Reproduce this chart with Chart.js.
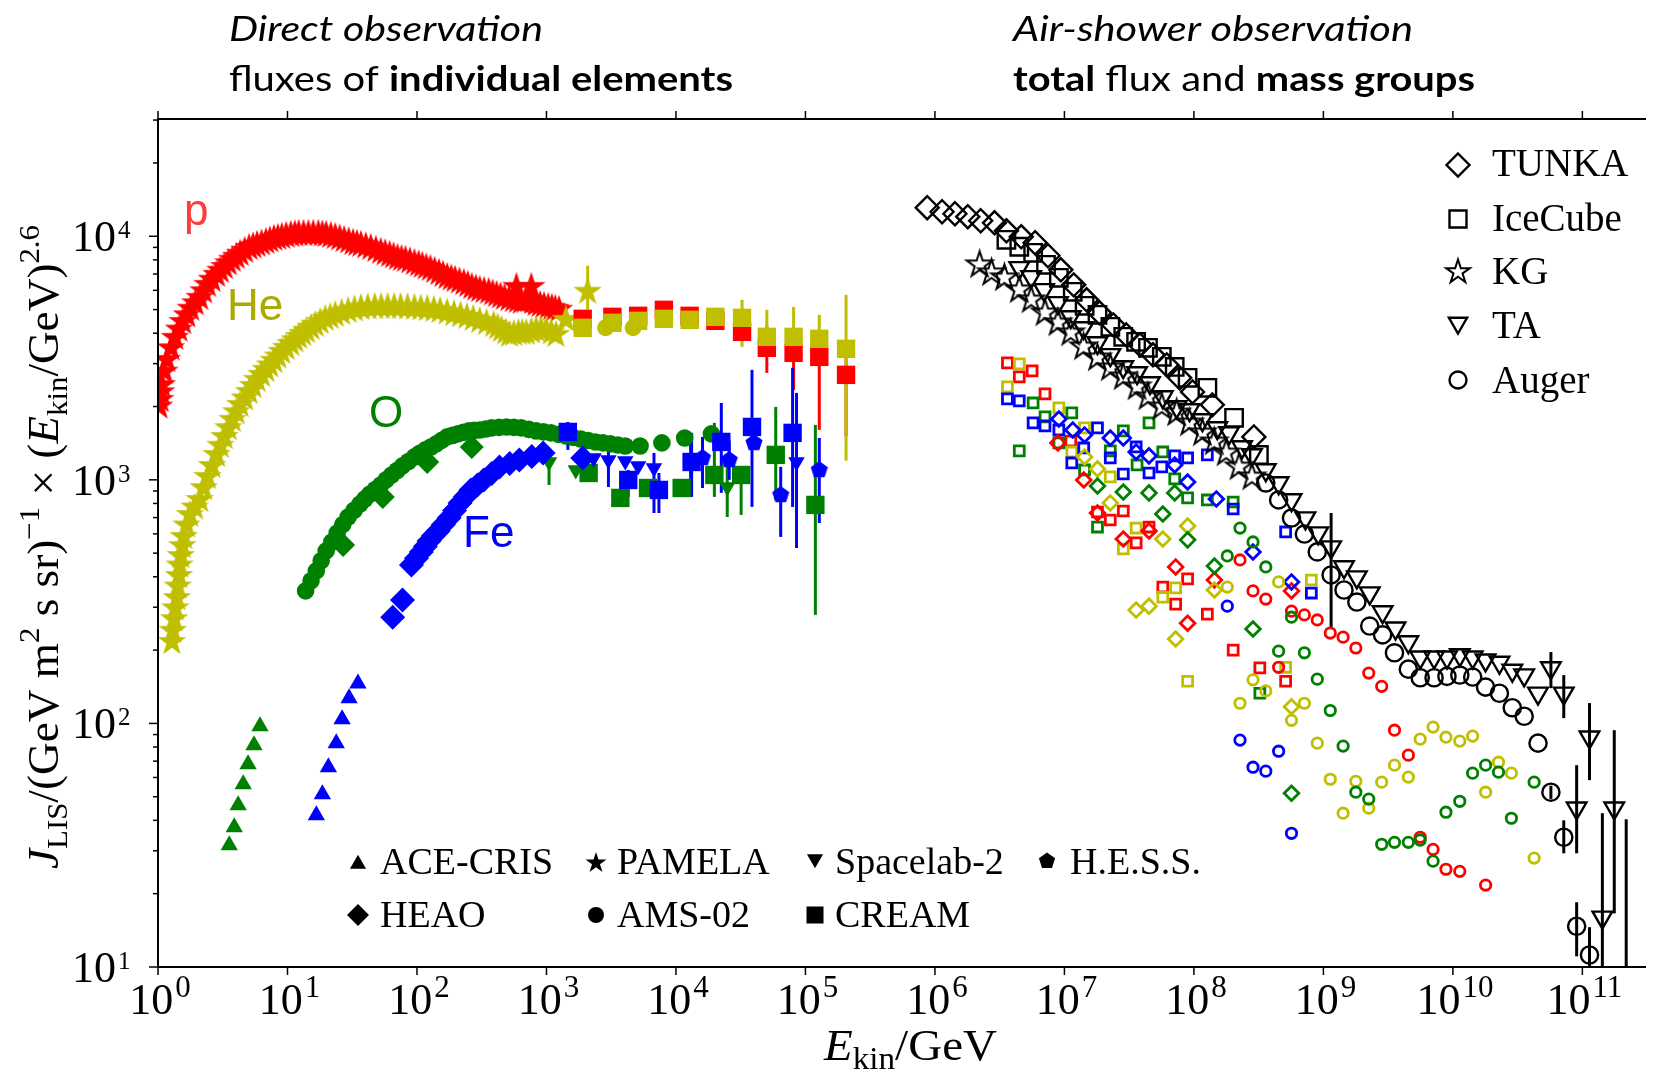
<!DOCTYPE html>
<html><head><meta charset="utf-8">
<script src="https://cdn.jsdelivr.net/npm/chart.js@4.4.0/dist/chart.umd.min.js"></script>
<style>html,body{margin:0;padding:0;background:#fff;}canvas{display:block;}</style>
</head><body>
<canvas id="c" width="1661" height="1069"></canvas>
<script>
// ---------------- DATA (E_kin [GeV], J*E^2.6) ----------------
// Direct observation
const pPAMELA = [[1.02,2000],[1.04,2130],[1.055,2290],[1.07,2450],[1.12,2780],[1.17,3110],[1.26,3470],[1.35,3830],[1.45,4140],[1.55,4450],[1.67,4740],[1.79,5040],[1.94,5310],[2.10,5590],[2.25,5950],[2.41,6320],[2.61,6630],[2.83,6950],[3.03,7220],[3.25,7490],[3.49,7750],[3.75,8010],[4.02,8240],[4.31,8480],[4.67,8720],[5.05,8970],[5.42,9100],[5.82,9230],[6.30,9360],[6.81,9490],[7.31,9630],[7.85,9770],[8.42,9860],[9.03,9950],[9.78,10050],[10.6,10140],[11.4,10190],[12.2,10240],[13.3,10240],[14.5,10240],[15.8,10240],[17.3,10240],[18.6,10190],[19.9,10140],[21.6,10050],[23.4,9950],[25.3,9810],[27.4,9670],[29.7,9540],[32.1,9400],[34.4,9310],[36.9,9230],[40.3,9100],[44.0,8970],[48.1,8800],[52.5,8640],[56.8,8520],[61.5,8400],[66.0,8280],[70.8,8160],[76.0,8080],[81.5,8010],[88.2,7900],[95.5,7780],[103,7680],[110,7570],[118,7460],[127,7360],[137,7220],[148,7080],[159,6950],[171,6820],[184,6720],[197,6630],[213,6530],[230,6440],[247,6320],[265,6200],[285,6110],[305,6030],[330,5970],[358,5920],[384,5830],[412,5750],[442,5670],[474,5590],[514,5530],[556,5480],[586,6200],[597,5430],[639,5380],[686,5430],[736,5480],[763,6200],[783,5380],[833,5280],[894,5230],[959,5180],[1030,5130],[1100,5090],[1170,5040],[1250,4990]];
const hePAMELA = [[1.28,216],[1.30,240],[1.33,268],[1.36,297],[1.40,327],[1.42,365],[1.45,403],[1.47,445],[1.50,487],[1.54,535],[1.58,583],[1.66,650],[1.76,718],[1.92,770],[2.10,827],[2.25,925],[2.41,1028],[2.61,1140],[2.83,1266],[3.03,1380],[3.25,1501],[3.49,1630],[3.75,1763],[4.02,1895],[4.31,2031],[4.67,2160],[5.05,2297],[5.42,2430],[5.82,2573],[6.30,2700],[6.81,2829],[7.31,2950],[7.85,3080],[8.42,3210],[9.03,3354],[9.78,3480],[10.6,3617],[11.4,3740],[12.2,3865],[13.1,3975],[14.0,4090],[15.2,4210],[16.4,4328],[17.9,4450],[19.6,4582],[21.4,4670],[23.4,4758],[26.2,4850],[29.4,4941],[32.9,5010],[36.9,5084],[41.7,5110],[47.2,5132],[52.9,5132],[59.4,5132],[66.6,5132],[74.7,5132],[84.5,5110],[95.5,5084],[107,5060],[120,5036],[135,4990],[151,4941],[171,4870],[193,4803],[217,4740],[243,4669],[272,4580],[305,4495],[345,4410],[391,4328],[420,4230],[450,4129],[484,4030],[518,3938],[560,3975],[607,4013],[650,4013],[698,4013],[765,4070],[833,4129],[910,4129],[993,4129],[1090,4030],[1184,3938],[1412,4538],[2080,5920]];
const heAMS = [[2860,4210],[4670,4210]];
const creamE = [1905,3230,5105,8067,12750,20160,32400,50340,80980,127900,205900];
const pCREAM_J = [4581,4669,4714,4989,4714,4495,4052,3483,3322,3198,2698];
const heCREAM_J = [4208,4411,4495,4581,4538,4669,4626,3865,3865,3793,3450];
const oAMS = [[13.8,350],[15.2,385],[16.7,423],[18.2,465],[19.9,511],[22.0,556],[24.2,605],[26.7,655],[29.4,704],[32.7,750],[36.3,796],[39.6,835],[43.3,875],[47.7,913],[52.5,953],[57.8,1000],[63.7,1047],[70.2,1093],[77.3,1141],[85.9,1190],[95.5,1242],[105,1285],[116,1327],[128,1365],[141,1405],[155,1452],[171,1501],[188,1522],[207,1544],[228,1566],[252,1588],[277,1596],[305,1603],[339,1618],[377,1634],[430,1642],[491,1649],[560,1642],[639,1634],[730,1611],[833,1588],[950,1574],[1084,1559],[1240,1537],[1412,1515],[1610,1494],[1839,1472],[2100,1451],[2395,1431],[2730,1418],[3118,1405],[3560,1391],[4061,1378],[5287,1378],[7788,1418],[11680,1486],[18780,1544]];
const oHEAO = [[26.9,540],[54.4,851],[120,1184],[265,1365]];
const oACE = [[3.55,31.6],[3.88,37.5],[4.16,46.1],[4.55,56.3],[4.96,68.0],[5.51,81.4],[6.13,97.4]];
const oSpacelab = [[1047,1184],[1684,1098],[24890,935]];
const oCREAM = [[2117,1067],[3719,843],[6087,926],[11070,926],[19800,1047],[31860,1047],[58970,1266],[119300,789]];
const feACE = [[16.7,42.0],[18.6,51.2],[20.7,66.1],[23.8,82.9],[26.4,104],[29.9,127],[35.0,146]];
const feHEAO = [[64.9,273],[77.3,321],[90.6,447],[99,476],[108,506],[116,533],[124,561],[134,589],[146,617],[160,655],[177,697],[195,748],[215,804],[237,855],[261,909],[293,953],[328,999],[378,1063],[434,1130],[520,1168],[617,1207],[770,1248],[942,1290],[1905,1230]];
const feSpacelab = [[2312,1230],[3010,1207],[4061,1196],[5105,1141],[6766,1119],[12980,1184],[85340,1184]];
const feCREAM = [[1463,1573],[4281,999],[7387,909],[13210,1184],[22400,1431],[38660,1649],[79570,1559]];
const feHESS = [[16030,1230],[25780,1207],[40030,1418],[64410,867],[127900,1098]];
// error bars [E, low, high]
const pErr = [[50340,2749,4300],[80980,2341,4000],[127900,1603,4000],[205900,1510,3300]];
const heErr = [[2080,5000,7570],[32400,3516,5484],[50340,3300,4989],[80980,3300,5132],[127900,3300,4758],[205900,1198,5751]];
const oErr = [[1047,953,1327],[24890,704,1242],[11070,850,1000],[19800,851,1713],[31860,718,1098],[58970,827,1993],[119300,279,1681]];
const feErr = [[1463,1327,1729],[4281,851,1098],[7387,731,1067],[13210,851,1559],[22400,884,2069],[38660,774,2829],[79570,774,2882],[3010,935,1458],[6766,731,1290],[12980,851,1559],[85340,525,2275],[64410,583,1130],[127900,665,1486],[16030,926,1501],[25780,1000,1450]];
// Air-shower observation: total flux
const TUNKA = [[8.72e5,13100],[1.135e6,12610],[1.427e6,12370],[1.794e6,12030],[2.255e6,11580],[2.885e6,11360],[3.565e6,10530],[4.642e6,9952],[5.937e6,9404],[7.467e6,8316],[9.386e6,7285],[1.18e7,6318],[1.484e7,5484],[1.865e7,4850],[2.386e7,4328],[3.0e7,3938],[3.838e7,3583],[4.825e7,3261],[6.173e7,2966],[7.761e7,2623],[9.757e7,2297],[1.387e8,2032],[2.906e8,1501]];
const IceCube = [[3.565e6,9674],[4.482e6,9057],[5.734e6,8554],[7.208e6,7637],[9.061e6,6753],[1.159e7,5916],[1.432e7,5183],[1.8e7,4758],[2.263e7,4248],[2.845e7,3865],[3.577e7,3686],[4.419e7,3483],[5.653e7,3198],[7.107e7,2909],[8.936e7,2623],[1.271e8,2386],[2.043e8,1797],[3.174e8,1266]];
const KG = [[2.216e6,7637],[2.737e6,7080],[3.441e6,6753],[4.482e6,6030],[5.536e6,5484],[7.083e6,4850],[8.903e6,4411],[1.119e7,4013],[1.407e7,3516],[1.8e7,3169],[2.263e7,2882],[2.845e7,2647],[3.64e7,2407],[4.419e7,2190],[5.653e7,1993],[7.362e7,1883],[9.256e7,1713],[1.164e8,1559],[1.437e8,1431],[1.775e8,1290],[2.232e8,1130],[2.805e8,1028]];
const TA = [[4.482e6,7423],[5.536e6,6817],[6.961e6,6030],[8.903e6,5332],[1.119e7,4669],[1.407e7,4208],[1.8e7,3651],[2.263e7,3261],[2.845e7,2909],[3.64e7,2749],[4.577e7,2501],[5.754e7,2190],[7.362e7,1993],[9.256e7,1937],[1.164e8,1763],[1.515e8,1634],[1.872e8,1559],[2.353e8,1365],[2.805e8,1266],[3.589e8,1098],[4.512e8,971],[5.673e8,827],[7.261e8,697],[9.125e8,605],[1.147e9,530],[1.442e9,439],[1.813e9,399],[2.279e9,343],[2.865e9,287],[3.602e9,246],[4.529e9,216],[5.594e9,187],[7.156e9,187],[8.999e9,187],[1.131e10,191],[1.422e10,187],[1.788e10,182],[2.288e10,178],[2.876e10,165],[3.552e10,158],[4.545e10,133],[5.714e10,169],[7.183e10,133],[9.031e10,44.9],[1.135e11,87.8],[1.427e11,16.0],[1.763e11,44.9],[2.18e11,7]];
const Auger = [[3.589e8,971],[4.512e8,827],[5.673e8,697],[7.133e8,599],[8.966e8,506],[1.147e9,407],[1.442e9,353],[1.813e9,315],[2.279e9,251],[2.865e9,231],[3.539e9,195],[4.529e9,167],[5.594e9,154],[7.156e9,154],[8.999e9,156],[1.131e10,158],[1.422e10,155],[1.788e10,141],[2.288e10,133],[2.876e10,116],[3.552e10,107],[4.545e10,83.0],[5.714e10,52.2],[7.183e10,34.1],[9.031e10,14.7],[1.135e11,11.2]];
const taErr = [[5.714e10,139.6,196.3],[7.183e10,105.1,157.9],[1.135e11,58.5,121.2],[9.031e10,29.3,67.4],[1.763e11,16.6,93.8],[1.427e11,5,42.8],[2.18e11,5,40.4]];
const augerErr = [[1.147e9,248.7,731],[5.714e10,49,55.5],[7.183e10,29.3,40.0],[9.031e10,11.06,18.44],[1.135e11,9,14.57]];
// Air-shower observation: mass groups (p red, He yellow, CNO green, Fe blue)
const pSq = [[3.63e6,3022],[5.63e6,2802],[4.48e6,2648],[7.08e6,2253],[1.12e7,1444],[1.80e7,738],[2.26e7,684],[2.85e7,745],[3.58e7,551],[4.50e7,640],[5.75e7,363],[7.23e7,309],[8.94e7,392],[1.27e8,281],[2.01e8,200],[3.23e8,169],[5.11e8,149]];
const heSq = [[4.48e6,2994],[3.63e6,2408],[9.06e6,1974],[1.43e7,1634],[1.14e7,1302],[2.26e7,1028],[3.58e7,634],[2.85e7,520],[7.23e7,360],[5.75e7,330],[8.94e7,149],[5.11e8,170],[8.07e8,388]];
const oSq = [[5.73e6,2069],[7.08e6,1813],[1.14e7,1883],[4.48e6,1315],[9.06e6,1418],[2.85e7,1588],[4.50e7,1713],[2.26e7,1315],[3.64e7,1151],[5.75e7,1302],[7.11e7,1009],[8.94e7,843],[1.27e8,827],[2.01e8,811],[1.43e7,1098],[1.80e7,640],[3.23e8,133]];
const feSq = [[3.63e6,2149],[4.48e6,2109],[5.73e6,1713],[7.08e6,1665],[9.06e6,1603],[1.80e7,1634],[1.41e7,1352],[2.26e7,1230],[1.14e7,1173],[2.85e7,1057],[3.58e7,1365],[4.50e7,1067],[5.65e7,1130],[7.11e7,1254],[8.94e7,1230],[1.27e8,1266],[2.01e8,759],[5.11e8,611],[8.07e8,343]];
const feDi = [[9.06e6,1779],[1.16e7,1603],[1.43e7,1529],[2.26e7,1486],[2.85e7,1486],[3.58e7,1302],[4.50e7,1254],[7.11e7,1151],[8.94e7,980],[1.49e8,835],[2.86e8,506],[5.67e8,381]];
const oDi = [[1.80e7,944],[2.85e7,892],[4.50e7,884],[7.11e7,884],[5.75e7,724],[8.94e7,567],[1.44e8,443],[2.86e8,244],[5.67e8,51.7]];
const heDi = [[1.43e7,1242],[1.80e7,1109],[2.26e7,804],[5.75e7,572],[8.94e7,647],[1.44e8,353],[3.58e7,292],[4.50e7,303],[7.23e7,222],[5.67e8,117]];
const pDi = [[8.90e6,1418],[1.41e7,999],[1.80e7,731],[2.85e7,572],[4.50e7,617],[7.23e7,439],[8.94e7,258],[1.44e8,388],[5.67e8,350]];
const pCi = [[2.27e8,469],[2.86e8,350],[3.59e8,324],[4.51e8,170],[5.67e8,289],[7.13e8,279],[8.97e8,266],[1.13e9,235],[1.42e9,226],[1.78e9,204],[2.24e9,161],[2.82e9,142],[3.54e9,93.8],[4.53e9,74.1],[5.59e9,34.1],[7.03e9,30.4],[8.84e9,25.2],[1.13e10,24.7],[1.79e10,21.7]];
const oCi = [[2.27e8,634],[2.86e8,556],[1.81e8,487],[3.59e8,439],[5.67e8,273],[4.51e8,198],[7.13e8,195],[8.97e8,152],[1.13e9,113],[1.42e9,80.7],[1.78e9,52.2],[2.24e9,48.9],[2.82e9,31.9],[3.54e9,32.5],[4.53e9,32.5],[5.59e9,33.2],[7.03e9,27.2],[8.84e9,43.2],[1.13e10,47.9],[1.42e10,62.5],[1.79e10,67.4],[2.25e10,63.1],[2.83e10,40.8],[4.24e10,57.4]];
const heCi = [[1.81e8,363],[4.51e8,381],[2.86e8,151],[3.59e8,136],[2.27e8,121],[7.13e8,121],[5.67e8,103],[8.97e8,83.0],[1.13e9,59.0],[1.42e9,42.8],[1.78e9,57.9],[2.24e9,44.9],[2.82e9,57.4],[3.54e9,67.4],[4.53e9,60.2],[5.59e9,86.2],[7.03e9,96.6],[8.84e9,87.8],[1.13e10,84.6],[1.42e10,88.7],[1.79e10,52.2],[2.25e10,69.3],[2.83e10,62.5],[4.24e10,28.0]];
const feCi = [[1.81e8,303],[2.27e8,85.4],[4.51e8,76.9],[2.86e8,66.1],[3.59e8,63.7],[5.67e8,35.4]];
// ticks
const xTickExps = [0,1,2,3,4,5,6,7,8,9,10,11];
const yTickExps = [1,2,3,4];
const yMinorTicks = [20,30,40,50,60,70,80,90,200,300,400,500,600,700,800,900,2000,3000,4000,5000,6000,7000,8000,9000,20000,30000];
const xRange = [1, 3.1e11];
const yRange = [10, 3.03e4];

// ---------------- STYLE ----------------
const RED='#ff0000', YEL='#bfbf00', GRN='#008000', BLU='#0000ff', BLK='#000000';
const SERIF='"Liberation Serif","Times New Roman",serif';
const SANS='"Liberation Sans",Arial,sans-serif';
const HEAD='Lato,"Open Sans",sans-serif';

function shapePath(g, shape, x, y, r) {
  g.beginPath();
  if (shape==='circle') { g.arc(x,y,r,0,2*Math.PI); return; }
  if (shape==='square') { g.rect(x-r,y-r,2*r,2*r); return; }
  if (shape==='diamond') { g.moveTo(x,y-r); g.lineTo(x+r,y); g.lineTo(x,y+r); g.lineTo(x-r,y); g.closePath(); return; }
  if (shape==='tri' || shape==='tridown') {
    const s = shape==='tri' ? 1 : -1;
    for (let i=0;i<3;i++){ const a=-Math.PI/2 + i*2*Math.PI/3; g.lineTo(x+r*Math.cos(a), y+s*r*Math.sin(a)); }
    g.closePath(); return;
  }
  if (shape==='pent') {
    for (let i=0;i<5;i++){ const a=-Math.PI/2 + i*2*Math.PI/5; g.lineTo(x+r*Math.cos(a), y+r*Math.sin(a)); }
    g.closePath(); return;
  }
  if (shape==='star') {
    for (let i=0;i<10;i++){ const rr = i%2 ? r*0.382 : r; const a=-Math.PI/2 + i*Math.PI/5; g.lineTo(x+rr*Math.cos(a), y+rr*Math.sin(a)); }
    g.closePath(); return;
  }
}
function drawShape(g, shape, x, y, r, fill, stroke, lw) {
  g.save(); shapePath(g, shape, x, y, r);
  if (fill) { g.fillStyle=fill; g.fill(); }
  if (stroke) { g.strokeStyle=stroke; g.lineWidth=lw; g.lineJoin='miter'; g.stroke(); }
  g.restore();
}
function markerCanvas(shape, r, fill, stroke, lw) {
  const s = Math.ceil(2*r + (lw||0) + 4);
  const c = document.createElement('canvas'); c.width = s; c.height = s;
  drawShape(c.getContext('2d'), shape, s/2, s/2, r, fill, stroke, lw);
  return c;
}

function pairs(a){ return a.map(p=>({x:p[0],y:p[1]})); }
function zip(xs, ys){ return xs.map((x,i)=>[x,ys[i]]); }
function mk(data, o) {
  return Object.assign({ data: pairs(data), showLine:false, clip:0,
    pointRadius:6, pointBorderWidth:0, pointBackgroundColor:'rgba(0,0,0,0)', pointBorderColor:'rgba(0,0,0,0)', pointRotation:0 }, o);
}
function filled(data, style, color, r, rot) {
  return mk(data, { pointStyle: style, pointRadius: r, pointBackgroundColor: color, pointRotation: rot||0 });
}
function open(data, style, color, r, lw, rot) {
  return mk(data, { pointStyle: style, pointRadius: r, pointBorderColor: color, pointBorderWidth: lw, pointRotation: rot||0 });
}

const starR = 15;
const datasets = [
  mk(pPAMELA, { pointStyle: markerCanvas('star', starR, RED), pointRadius: starR }),
  mk(hePAMELA, { pointStyle: markerCanvas('star', starR, YEL), pointRadius: starR }),
  filled(zip(creamE, pCREAM_J), 'rect', RED, 13),
  filled(heAMS, 'circle', YEL, 8.5),
  filled(zip(creamE, heCREAM_J), 'rect', YEL, 13),
  filled(oAMS, 'circle', GRN, 8.8),
  filled(oHEAO, 'rectRot', GRN, 12),
  filled(oACE, 'triangle', GRN, 10),
  filled(oSpacelab, 'triangle', GRN, 9.5, 180),
  filled(oCREAM, 'rect', GRN, 13),
  filled(feACE, 'triangle', BLU, 10),
  filled(feHEAO, 'rectRot', BLU, 12.5),
  filled(feSpacelab, 'triangle', BLU, 9.5, 180),
  filled(feCREAM, 'rect', BLU, 13),
  mk(feHESS, { pointStyle: markerCanvas('pent', 9, BLU), pointRadius: 9 }),
  open(pSq, 'rect', RED, 7, 2.8), open(heSq, 'rect', YEL, 7, 2.8), open(oSq, 'rect', GRN, 7, 2.8), open(feSq, 'rect', BLU, 7, 2.8),
  open(pDi, 'rectRot', RED, 7.3, 2.8), open(heDi, 'rectRot', YEL, 7.3, 2.8), open(oDi, 'rectRot', GRN, 7.3, 2.8), open(feDi, 'rectRot', BLU, 7.3, 2.8),
  open(pCi, 'circle', RED, 5.2, 2.8), open(heCi, 'circle', YEL, 5.2, 2.8), open(oCi, 'circle', GRN, 5.2, 2.8), open(feCi, 'circle', BLU, 5.2, 2.8),
  open(TUNKA, 'rectRot', BLK, 11.5, 2.4),
  open(IceCube, 'rect', BLK, 12.3, 2.4),
  mk(KG, { pointStyle: markerCanvas('star', 13.5, null, BLK, 2), pointRadius: 13.5 }),
  open(TA, 'triangle', BLK, 11.3, 2.4, 180),
  open(Auger, 'circle', BLK, 8.6, 2.4)
];
datasets.forEach((d,i)=>{ d.order = -i; });

const errorSets = [
  {data:pErr, color:RED, lw:3}, {data:heErr, color:YEL, lw:3},
  {data:oErr, color:GRN, lw:3}, {data:feErr, color:BLU, lw:3},
  {data:taErr, color:BLK, lw:3}, {data:augerErr, color:BLK, lw:3}
];

function richWidth(g, parts){ let w=0; for(const p of parts){ g.font=p.f; w+=g.measureText(p.t).width; } return w; }
function drawRich(g, parts, x, y, target, color){
  const w = richWidth(g, parts); const sx = target ? target/w : 1;
  g.save(); g.translate(x,y); g.scale(sx,1); g.fillStyle=color||'#000'; g.textBaseline='alphabetic'; g.textAlign='left';
  let cx=0; for(const p of parts){ g.font=p.f; g.fillText(p.t, cx, p.dy||0); cx+=g.measureText(p.t).width; }
  g.restore();
}

const errPlugin = {
  id:'errbars',
  beforeDatasetsDraw(chart){
    const g=chart.ctx, a=chart.chartArea, xs=chart.scales.x, ys=chart.scales.y;
    g.save(); g.beginPath(); g.rect(a.left,a.top,a.right-a.left,a.bottom-a.top); g.clip();
    for(const s of errorSets){
      g.strokeStyle=s.color; g.lineWidth=s.lw;
      for(const [E,lo,hi] of s.data){
        const px=xs.getPixelForValue(E);
        g.beginPath(); g.moveTo(px, ys.getPixelForValue(lo)); g.lineTo(px, ys.getPixelForValue(hi)); g.stroke();
      }
    }
    g.restore();
  }
};

const decorPlugin = {
  id:'decor',
  afterDraw(chart){
    const g=chart.ctx, a=chart.chartArea, xs=chart.scales.x, ys=chart.scales.y;
    g.save();
    g.strokeStyle='#000'; g.fillStyle='#000';
    g.lineWidth=2;
    g.beginPath(); g.moveTo(a.left, a.top); g.lineTo(a.left, a.bottom); g.stroke();
    g.beginPath(); g.moveTo(a.left-1, a.bottom); g.lineTo(a.right, a.bottom); g.stroke();
    g.beginPath(); g.moveTo(a.left-1, a.top); g.lineTo(a.right, a.top); g.stroke();
    g.lineWidth=1.5;
    for(const n of xTickExps){
      const px=xs.getPixelForValue(Math.pow(10,n));
      g.beginPath(); g.moveTo(px,a.bottom); g.lineTo(px,a.bottom+8); g.stroke();
      g.beginPath(); g.moveTo(px,a.top); g.lineTo(px,a.top-8); g.stroke();
    }
    for(const n of yTickExps){
      const py=ys.getPixelForValue(Math.pow(10,n));
      g.beginPath(); g.moveTo(a.left,py); g.lineTo(a.left-9,py); g.stroke();
    }
    for(const v of yMinorTicks){
      const py=ys.getPixelForValue(v);
      g.beginPath(); g.moveTo(a.left,py); g.lineTo(a.left-5,py); g.stroke();
    }
    g.textBaseline='alphabetic'; g.textAlign='left';
    for(const n of xTickExps){
      const px=xs.getPixelForValue(Math.pow(10,n));
      g.font='44px '+SERIF; const w1=g.measureText('10').width;
      g.font='31px '+SERIF; const w2=g.measureText(String(n)).width;
      const x0=px-(w1+w2+2)/2+2;
      g.font='44px '+SERIF; g.fillText('10', x0, 1014);
      g.font='31px '+SERIF; g.fillText(String(n), x0+w1+2, 997);
    }
    for(const n of yTickExps){
      const py=ys.getPixelForValue(Math.pow(10,n));
      g.font='44px '+SERIF; const w1=g.measureText('10').width; g.fillText('10', 72, py+15);
      g.font='25px '+SERIF; g.fillText(String(n), 72+w1+2, py+2);
    }
    drawRich(g, [{t:'E',f:'italic 44px '+SERIF},{t:'kin',f:'31px '+SERIF,dy:9},{t:'/GeV',f:'44px '+SERIF}], 824, 1060, 173);
    g.save(); g.translate(58, 869); g.rotate(-Math.PI/2);
    drawRich(g, [{t:'J',f:'italic 44px '+SERIF},{t:'LIS',f:'30px '+SERIF,dy:9},{t:'/(GeV m',f:'44px '+SERIF},{t:'2',f:'30px '+SERIF,dy:-19},
      {t:' s sr)',f:'44px '+SERIF},{t:'\u22121',f:'30px '+SERIF,dy:-19},{t:' \u00d7 (',f:'44px '+SERIF},{t:'E',f:'italic 44px '+SERIF},
      {t:'kin',f:'30px '+SERIF,dy:9},{t:'/GeV)',f:'44px '+SERIF},{t:'2.6',f:'30px '+SERIF,dy:-19}], 0, 0, 644);
    g.restore();
    drawRich(g, [{t:'Direct observation',f:'italic 34px '+HEAD}], 229, 41, 314);
    drawRich(g, [{t:'fluxes of ',f:'34px '+HEAD},{t:'individual elements',f:'bold 34px '+HEAD}], 229, 91, 504);
    drawRich(g, [{t:'Air-shower observation',f:'italic 34px '+HEAD}], 1013, 41, 400);
    drawRich(g, [{t:'total',f:'bold 34px '+HEAD},{t:' flux and ',f:'34px '+HEAD},{t:'mass groups',f:'bold 34px '+HEAD}], 1013, 91, 462);
    g.font='44px '+SANS;
    g.fillStyle='#ff3b3b'; g.fillText('p', 184, 225);
    g.fillStyle='#aaaa00'; g.fillText('He', 227, 320);
    g.fillStyle=GRN; g.fillText('O', 369, 427);
    g.fillStyle=BLU; g.fillText('Fe', 463, 547);
    g.fillStyle='#000'; g.font='38px '+SERIF;
    drawShape(g,'tri',358,864,9.3,'#000');       g.fillStyle='#000'; g.fillText('ACE-CRIS',380,874);
    drawShape(g,'star',596,863,11,'#000');       g.fillStyle='#000'; g.fillText('PAMELA',617,874);
    drawShape(g,'tridown',815,859,9.3,'#000');   g.fillStyle='#000'; g.fillText('Spacelab-2',835,874);
    drawShape(g,'pent',1047,861,8.5,'#000');     g.fillStyle='#000'; g.fillText('H.E.S.S.',1070,874);
    drawShape(g,'diamond',358,915,11,'#000');    g.fillStyle='#000'; g.fillText('HEAO',380,927);
    drawShape(g,'circle',596,915,8,'#000');      g.fillStyle='#000'; g.fillText('AMS-02',617,927);
    drawShape(g,'square',815,915,8.5,'#000');    g.fillStyle='#000'; g.fillText('CREAM',835,927);
    g.font='39px '+SERIF;
    drawShape(g,'diamond',1458,165,11.5,null,'#000',2.4); g.fillStyle='#000'; g.fillText('TUNKA',1492,176);
    drawShape(g,'square',1458,219,8.5,null,'#000',2.4);   g.fillStyle='#000'; g.fillText('IceCube',1492,231);
    drawShape(g,'star',1458,272,12.5,null,'#000',2);      g.fillStyle='#000'; g.fillText('KG',1492,284);
    drawShape(g,'tridown',1458,323,10.5,null,'#000',2.4); g.fillStyle='#000'; g.fillText('TA',1492,338);
    drawShape(g,'circle',1458,380,8.5,null,'#000',2.4);   g.fillStyle='#000'; g.fillText('Auger',1492,393);
    g.restore();
  }
};

new Chart(document.getElementById('c'), {
  type:'scatter',
  data:{ datasets },
  options:{
    responsive:false, animation:false, devicePixelRatio:1, events:[],
    layout:{ padding:{ left:158, right:0, top:119, bottom:102 } },
    scales:{
      x:{ type:'logarithmic', min:xRange[0], max:xRange[1], display:false },
      y:{ type:'logarithmic', min:yRange[0], max:yRange[1], display:false }
    },
    plugins:{ legend:{display:false}, tooltip:{enabled:false} }
  },
  plugins:[errPlugin, decorPlugin]
});
</script>
</body></html>
